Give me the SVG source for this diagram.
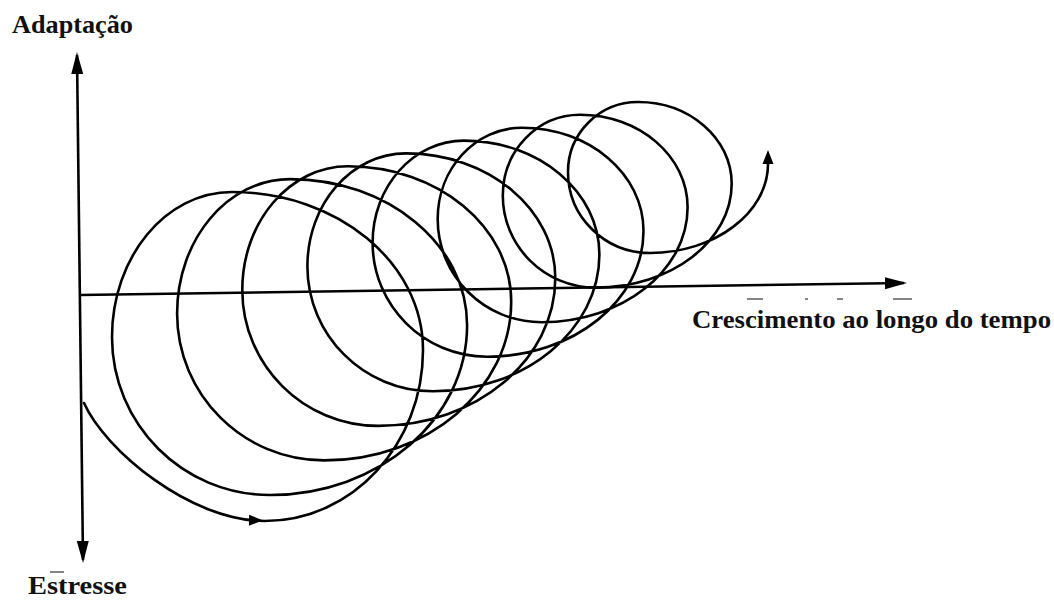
<svg xmlns="http://www.w3.org/2000/svg" width="1054" height="600" viewBox="0 0 1054 600">
<style>
.ink{fill:none;stroke:#000;stroke-width:2.6;stroke-linecap:round;stroke-linejoin:round}
.axis{fill:none;stroke:#000;stroke-width:2.6}
.lbl{font-weight:bold;font-size:26px;fill:#111}
.spot{stroke:#666;stroke-width:1.6;fill:none}
</style>
<defs>
<marker id="arr" markerUnits="userSpaceOnUse" markerWidth="22" markerHeight="14" viewBox="0 0 22 14" refX="19" refY="7" orient="auto-start-reverse">
<path d="M0,1 L22,7 L0,13 Z" fill="#000"/>
</marker>
<path id="head" d="M0,0 L-14,-5.5 L-14,5.5 Z" fill="#000"/>
</defs>
<g id="axes">
<line class="axis" x1="77" y1="55" x2="83" y2="560" marker-start="url(#arr)" marker-end="url(#arr)"/>
<line class="axis" x1="80" y1="295" x2="904" y2="283" marker-end="url(#arr)"/>
</g>
<g id="spiral">
<path class="ink" d="M84,403 C105,450 190,521 265,521
C352.3,521 423,444.4 423,350
C423,262.7 337.5,192 232,192
C165.7,192 112,257 112,337.1
C112,424.3 182.7,495 270,495
C378.9,495 467.1,419 467.1,325.3
C467.1,244.6 387.8,179.1 290,179.1
C227.6,179.1 177.1,239.3 177.1,313.5
C177.1,394.6 243,460.4 324.3,460.4
C427.5,460.4 511.2,389.3 511.2,301.7
C511.2,226.9 438.1,166.3 348,166.3
C289.6,166.3 242.3,221.6 242.3,289.9
C242.3,365 303.3,425.9 378.6,425.9
C476.2,425.9 555.3,359.7 555.3,278.1
C555.3,209.2 488.5,153.4 406,153.4
C351.5,153.4 307.4,203.9 307.4,266.3
C307.4,335.3 363.6,391.3 432.9,391.3
C524.9,391.3 599.4,330.1 599.4,254.5
C599.4,191.6 538.8,140.6 464,140.6
C413.5,140.6 372.6,186.3 372.6,242.7
C372.6,305.7 423.9,356.7 487.2,356.7
C573.5,356.7 643.5,300.4 643.5,230.9
C643.5,173.9 589.1,127.7 522,127.7
C475.4,127.7 437.7,168.6 437.7,219.1
C437.7,276 484.2,322.2 541.5,322.2
C622.2,322.2 687.6,270.8 687.6,207.3
C687.6,156.2 639.4,114.8 580,114.8
C537.4,114.8 502.8,150.9 502.8,195.5
C502.8,246.4 544.4,287.6 595.8,287.6
C670.9,287.6 731.7,241.1 731.7,183.7
C731.7,138.6 689.8,102 638,102
C599.3,102 568,133.3 568,171.9
C568,216.7 604.7,253 650,253
C715.2,253 768,212.3 768,164"/>
<use href="#head" transform="translate(263,520.5) rotate(1)"/>
<use href="#head" transform="translate(768,150) rotate(-90)"/>
</g>
<g id="marks">
<line class="spot" x1="747" y1="299" x2="763" y2="299"/>
<line class="spot" x1="805" y1="299" x2="808" y2="299"/>
<line class="spot" x1="837" y1="299" x2="843" y2="299"/>
<line class="spot" x1="893" y1="299" x2="912" y2="299"/>
<line class="spot" x1="50" y1="572" x2="64" y2="572"/>
</g>
<g id="labels" font-family="Liberation Serif, DejaVu Serif, serif">
<text class="lbl" x="12" y="33" textLength="121" lengthAdjust="spacingAndGlyphs">Adaptação</text>
<text class="lbl" x="692" y="328" textLength="359" lengthAdjust="spacingAndGlyphs">Crescimento ao longo do tempo</text>
<text class="lbl" x="28" y="594" font-size="25" textLength="99" lengthAdjust="spacingAndGlyphs">Estresse</text>
</g>
</svg>
